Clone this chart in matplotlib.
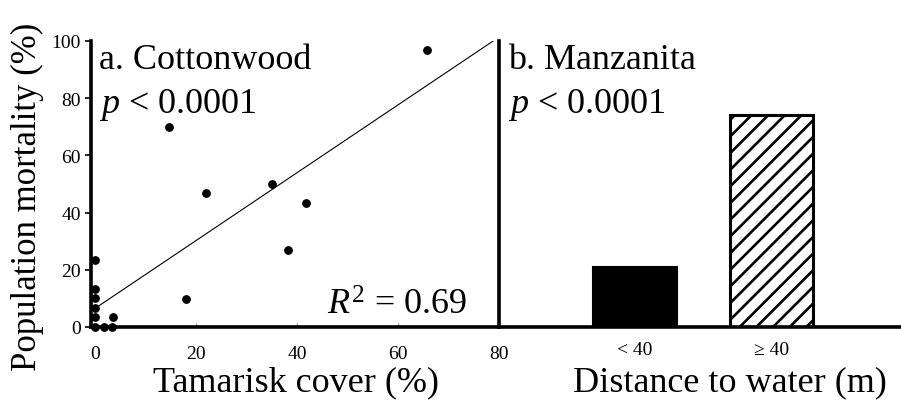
import matplotlib
matplotlib.use("Agg")
import matplotlib.pyplot as plt
import numpy as np

plt.rcParams['font.family'] = ['Liberation Serif', 'DejaVu Serif']
plt.rcParams['mathtext.fontset'] = 'custom'
plt.rcParams['mathtext.rm'] = 'Liberation Serif'
plt.rcParams['mathtext.it'] = 'Liberation Serif:italic'
plt.rcParams['hatch.linewidth'] = 1.9

# Panel a: cottonwood
tamarisk_cover = [0, 0, 0, 0, 0, 0, 1.7, 3.3, 3.6, 18.0, 14.7, 22.0, 35.0, 41.8, 38.2, 65.8]
cottonwood_mortality = [0, 3.4, 6.7, 10.0, 13.3, 23.3, 0, 0, 3.4, 9.9, 70.0, 46.7, 50.1, 43.3, 26.8, 96.7]
fit_intercept = 6.5
fit_slope = 1.186
x_ticks_a = [0, 20, 40, 60, 80]
y_ticks = [0, 20, 40, 60, 80, 100]

# Panel b: manzanita
distance_cats = ['< 40', '\u2265 40']
manzanita_mortality = [21.1, 74.0]

fig = plt.figure(figsize=(9.01, 4.02), dpi=100)
W, H = 901, 402

def px_axes(x0, x1, ytop, ybot):
    return [x0 / W, (H - ybot) / H, (x1 - x0) / W, (ybot - ytop) / H]

ax1 = fig.add_axes(px_axes(90.5, 499, 42, 328))
ax2 = fig.add_axes(px_axes(499, 901, 42, 328))

big = 26
small = 14

# ---- panel a
ax1.scatter(tamarisk_cover, cottonwood_mortality, s=28, color='black', zorder=3, clip_on=False)
x_end = (100 - fit_intercept) / fit_slope
xs = np.array([0, x_end])
ax1.plot(xs, fit_intercept + fit_slope * xs, color='black', lw=0.8, zorder=2)
ax1.set_xlim(-0.9, 80)
ax1.set_ylim(0, 100)
ax1.set_xticks(x_ticks_a)
ax1.set_yticks(y_ticks)
for s in ['top', 'right']:
    ax1.spines[s].set_visible(False)
ax1.spines['left'].set_linewidth(2.6)
ax1.spines['bottom'].set_linewidth(2.6)
ax1.tick_params(axis='y', direction='out', length=4, width=1.2, pad=3, labelsize=small)
ax1.tick_params(axis='x', direction='in', length=3, width=0.6, color='#777777', pad=13, labelsize=small)
ax1.set_ylabel('Population mortality (%)', fontsize=25, va='center')
ax1.yaxis.set_label_coords(-0.155, 0.458)
ax1.set_xlabel('Tamarisk cover (%)', fontsize=big, va='center')
ax1.xaxis.set_label_coords(0.503, -0.19)
ax1.text(0.022, 0.906, 'a. Cottonwood', transform=ax1.transAxes, fontsize=big, va='baseline')
ax1.text(0.022, 0.753, '$p$ < 0.0001', transform=ax1.transAxes, fontsize=big, va='baseline')
ax1.text(0.58, 0.045, '$R^2$ = 0.69', transform=ax1.transAxes, fontsize=big, va='baseline')

# ---- panel b
xpos = np.arange(len(distance_cats))
ax2.bar(xpos[0], manzanita_mortality[0], width=0.62, color='black', edgecolor='black', lw=1.5)
ax2.bar(xpos[1], manzanita_mortality[1], width=0.61, color='white', edgecolor='black', lw=2.2, hatch='//')
ax2.set_xlim(-0.995, 1.946)
ax2.set_ylim(0, 100)
ax2.set_xticks(xpos)
ax2.set_xticklabels(distance_cats)
ax2.set_yticks([])
for s in ['top', 'right']:
    ax2.spines[s].set_visible(False)
ax2.spines['left'].set_linewidth(2.6)
ax2.spines['bottom'].set_linewidth(2.6)
ax2.tick_params(axis='x', length=0, pad=10, labelsize=small)
ax2.set_xlabel('Distance to water (m)', fontsize=big, va='center')
ax2.xaxis.set_label_coords(0.575, -0.19)
ax2.text(0.022, 0.906, 'b. Manzanita', transform=ax2.transAxes, fontsize=big, va='baseline')
ax2.text(0.022, 0.753, '$p$ < 0.0001', transform=ax2.transAxes, fontsize=big, va='baseline')

fig.savefig('out.png', dpi=100)
